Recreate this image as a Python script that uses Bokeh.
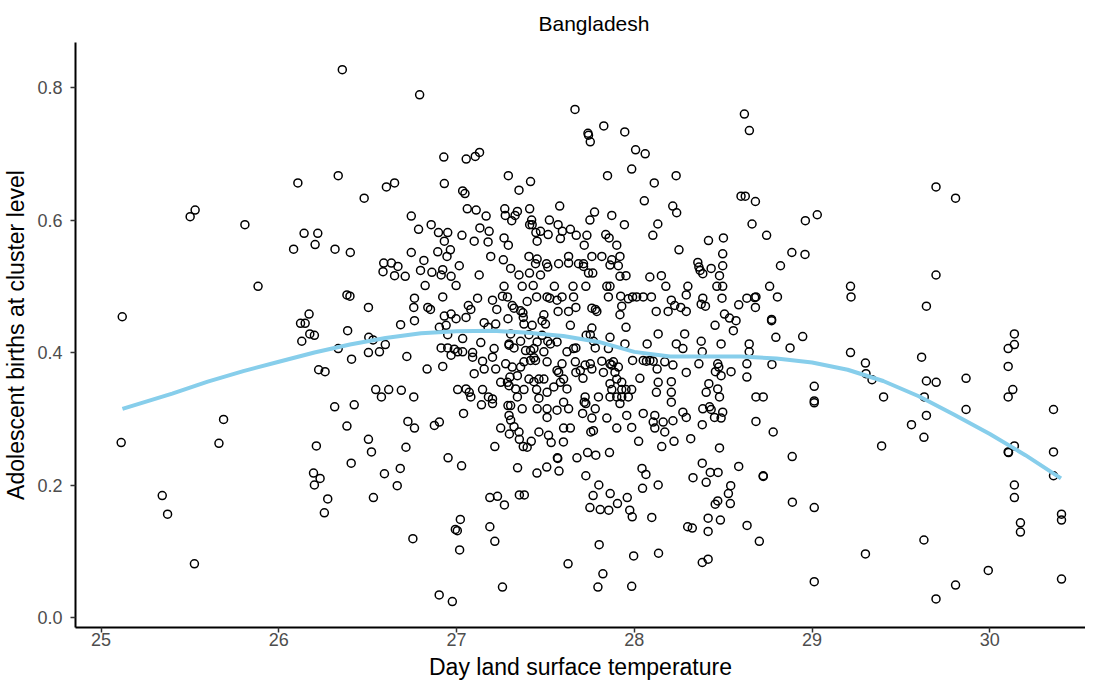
from bokeh.plotting import figure
from bokeh.models import Range1d, FixedTicker, NumeralTickFormatter
from bokeh.embed import file_html
from bokeh.resources import INLINE

temperature = [
    26.357, 26.107, 26.334, 26.480, 26.605, 26.651, 25.501, 25.529, 25.809, 26.142, 26.219, 26.745,
    26.792, 27.666, 27.739, 27.742, 27.752, 27.828, 27.946, 28.007, 28.061, 27.985, 27.849, 28.112,
    28.235, 28.056, 28.216, 28.238, 28.132, 27.944, 28.104, 27.873, 27.776, 27.750, 28.619, 28.647,
    28.600, 28.624, 26.928, 27.054, 27.105, 27.129, 26.931, 27.034, 27.047, 27.291, 27.351, 27.416,
    27.060, 27.110, 27.166, 27.271, 27.274, 27.342, 27.329, 27.310, 27.411, 27.580, 27.422, 27.411,
    27.425, 27.522, 27.571, 26.786, 26.857, 26.898, 26.950, 27.030, 27.131, 27.183, 27.267, 27.446,
    27.472, 27.515, 27.595, 27.640, 27.673, 27.733, 27.839, 27.858, 28.417, 28.501,
    28.681, 28.662, 28.744, 28.962, 29.029, 29.697, 29.807,
    25.119, 25.883, 26.083, 26.204, 26.316, 26.402, 26.745, 26.590, 26.633, 26.670, 26.586, 26.651,
    26.711, 26.383, 26.400, 26.504, 26.763, 26.759, 26.763, 26.685, 26.122, 26.148, 26.170, 26.174,
    26.200, 26.129, 26.387, 26.506, 26.530, 26.599, 26.334, 26.504, 26.566, 26.409, 26.720, 26.224,
    26.260, 26.545, 26.577, 26.618, 26.689, 26.759, 26.314, 26.424, 25.689, 26.383, 26.726, 26.763,
    25.113, 25.663, 26.211, 26.504, 26.521, 26.715, 26.407, 26.195, 26.232, 26.200, 26.594, 26.683,
    26.666, 26.275, 26.532, 26.256, 25.344, 25.374, 25.525, 26.754,
    28.886, 28.960, 28.822, 28.761, 28.684, 28.677, 28.805, 28.681, 28.772, 28.772, 29.216, 29.219,
    29.697, 29.643, 28.796, 28.947, 28.876, 29.216, 30.138, 30.138, 30.103, 29.616, 29.300, 28.774,
    29.303, 29.337, 30.103, 29.643, 29.698, 29.866, 29.012, 29.012, 29.012, 28.684, 28.725, 29.402,
    29.631, 30.129, 30.103, 29.866, 30.358, 29.643, 29.559, 28.684, 28.781,
    29.629, 29.391, 28.888, 28.725, 28.725, 28.889, 29.012, 28.703, 29.300, 29.629, 29.012, 29.697,
    29.807, 29.991, 30.138, 30.103, 30.105, 30.358, 30.358, 30.138, 30.138, 30.172, 30.172, 30.403,
    30.403, 30.403,
    27.215, 27.297, 27.353, 27.420, 27.375, 27.397, 27.517, 27.532, 27.601, 27.755, 28.024, 28.154,
    28.223, 28.317, 28.479, 26.952, 27.028, 27.343, 27.452, 27.507, 27.576, 27.567, 27.569, 27.677,
    27.737, 27.783, 27.860, 27.727, 27.800, 27.768, 27.864, 27.750, 27.808, 27.856, 27.905, 27.960,
    27.974, 27.988, 28.043, 28.065, 28.046, 28.134, 28.098, 27.187, 27.230, 27.269, 27.353, 27.381,
    27.021, 26.993, 27.004, 27.187, 27.215, 27.017, 27.258, 26.902, 26.976, 27.627, 27.802, 27.823,
    27.795, 27.996, 28.136, 27.985, 28.382, 28.427, 28.471, 28.330, 28.404, 28.587, 28.542, 28.529,
    28.540, 28.469, 28.455, 28.415, 28.484, 28.415, 28.300, 28.326, 28.634, 28.382, 28.415,
    26.931, 27.099, 27.177, 27.291, 27.453, 27.584, 27.718, 26.894, 26.965, 26.946, 27.192, 27.263,
    27.407, 27.453, 27.630, 27.686, 27.714, 27.761, 27.817, 27.873, 27.919, 27.901, 28.251, 28.497,
    28.497, 26.816, 26.797, 26.861, 26.922, 26.913, 26.969, 27.015, 27.127, 27.304, 27.351, 27.410,
    27.472, 27.444, 27.506, 27.513, 27.574, 27.630, 27.714, 27.742, 27.766, 27.863, 27.910, 27.919,
    27.953, 28.087, 28.152, 28.357, 28.363, 28.370, 28.385, 28.432, 28.479, 26.823, 26.997, 27.267,
    27.369, 27.431, 27.550, 27.655, 27.727, 27.845, 27.863, 28.177, 28.301, 28.464, 28.497, 26.922,
    27.118, 27.202, 27.258, 27.286, 27.313, 27.397, 27.450, 27.509, 27.524, 27.593, 27.565, 27.658,
    27.854, 27.923, 27.966, 27.990, 28.013, 28.050, 28.096, 28.208, 28.292, 28.385, 28.493, 28.633,
    26.838, 26.853, 26.969, 26.931, 27.066, 27.080, 27.053, 27.226, 27.323, 27.360, 27.373, 27.375,
    27.491, 27.571, 27.671, 27.630, 27.761, 27.781, 27.789, 27.919, 27.929, 28.123, 28.190, 28.227,
    28.261, 28.292, 28.376, 28.400, 28.507, 28.535, 28.587, 26.903, 26.941, 26.997, 27.155, 27.177,
    27.220, 27.289, 27.379, 27.425, 27.481, 27.500, 27.640, 27.761, 27.953, 28.134, 28.283, 28.454,
    28.557, 28.572, 26.950, 27.034, 27.136, 27.304, 27.295, 27.360, 27.407, 27.453, 27.481, 27.513,
    27.565, 27.729, 27.752, 27.770, 27.863, 27.947, 28.072, 28.236, 28.376, 28.488, 28.646, 26.913,
    26.950, 26.987, 27.006, 27.034, 27.090, 27.211, 27.295, 27.323, 27.388, 27.416, 27.435, 27.491,
    27.528, 27.621, 27.658, 27.671, 27.780, 27.854, 28.273, 28.382, 28.646, 26.969, 27.090, 27.146,
    27.202, 27.276, 27.313, 27.360, 27.379, 27.416, 27.435, 27.444, 27.509, 27.593, 27.668, 27.723,
    27.752, 27.817, 27.863, 27.882, 27.910, 27.990, 28.050, 28.068, 28.087, 28.106, 28.128, 28.171,
    28.217, 28.363, 28.469, 28.475, 28.633, 28.633, 26.834, 26.922, 27.099, 27.155, 27.220, 27.300,
    27.286, 27.342, 27.407, 27.435, 27.463, 27.491, 27.565, 27.574, 27.602, 27.671, 27.696, 27.711,
    27.761, 27.826, 27.873, 27.891, 27.901, 27.929, 28.031, 28.134, 28.208, 28.292, 28.456, 28.488,
    28.544, 27.006, 27.053, 27.071, 27.080, 27.146, 27.179, 27.202, 27.248, 27.295, 27.332, 27.342,
    27.379, 27.450, 27.463, 27.509, 27.547, 27.584, 27.621, 27.723, 27.798, 27.863, 27.873, 27.863,
    27.901, 27.929, 27.929, 27.953, 27.966, 27.985, 28.124, 28.208, 28.404, 28.419, 28.469, 28.479,
    27.140, 27.202, 27.289, 27.304, 27.369, 27.453, 27.509, 27.565, 27.602, 27.630, 27.718, 27.727,
    27.780, 27.919, 28.050, 28.115, 28.208, 28.273, 28.385, 28.423, 28.432, 28.497, 26.875, 26.903,
    27.039, 27.248, 27.295, 27.304, 27.323, 27.351, 27.463, 27.509, 27.602, 27.640, 27.709, 27.761,
    27.770, 27.845, 27.901, 27.957, 27.985, 28.106, 28.115, 28.162, 28.171, 28.217, 28.292, 28.382,
    28.451, 28.488,
]

births = [
    0.827, 0.656, 0.667, 0.633, 0.650, 0.656, 0.605, 0.615, 0.593, 0.580, 0.580, 0.606,
    0.789, 0.767, 0.731, 0.728, 0.718, 0.742, 0.733, 0.706, 0.700, 0.677, 0.667, 0.656,
    0.667, 0.629, 0.621, 0.611, 0.594, 0.593, 0.577, 0.607, 0.612, 0.600, 0.760, 0.735,
    0.636, 0.636, 0.695, 0.692, 0.696, 0.702, 0.655, 0.644, 0.640, 0.667, 0.645, 0.658,
    0.617, 0.615, 0.606, 0.617, 0.607, 0.613, 0.607, 0.599, 0.617, 0.621, 0.600, 0.593,
    0.593, 0.600, 0.593, 0.586, 0.593, 0.581, 0.581, 0.577, 0.588, 0.583, 0.573, 0.581,
    0.583, 0.578, 0.583, 0.586, 0.577, 0.577, 0.578, 0.573, 0.569, 0.573,
    0.628, 0.594, 0.577, 0.599, 0.608, 0.650, 0.633,
    0.454, 0.500, 0.556, 0.563, 0.556, 0.551, 0.551, 0.535, 0.535, 0.530, 0.522, 0.516,
    0.515, 0.487, 0.485, 0.468, 0.482, 0.468, 0.448, 0.442, 0.444, 0.444, 0.458, 0.428,
    0.426, 0.417, 0.433, 0.423, 0.419, 0.412, 0.406, 0.400, 0.401, 0.390, 0.394, 0.374,
    0.371, 0.344, 0.333, 0.344, 0.343, 0.333, 0.318, 0.321, 0.299, 0.289, 0.296, 0.286,
    0.264, 0.263, 0.259, 0.269, 0.250, 0.257, 0.233, 0.218, 0.210, 0.200, 0.217, 0.225,
    0.199, 0.179, 0.181, 0.158, 0.184, 0.156, 0.081, 0.119,
    0.551, 0.548, 0.531, 0.500, 0.484, 0.483, 0.484, 0.468, 0.450, 0.448, 0.500, 0.484,
    0.517, 0.470, 0.423, 0.424, 0.407, 0.400, 0.428, 0.412, 0.406, 0.393, 0.384, 0.382,
    0.368, 0.359, 0.379, 0.357, 0.355, 0.361, 0.349, 0.327, 0.324, 0.333, 0.333, 0.333,
    0.333, 0.344, 0.333, 0.314, 0.314, 0.305, 0.291, 0.296, 0.280,
    0.272, 0.259, 0.243, 0.214, 0.213, 0.174, 0.166, 0.115, 0.096, 0.117, 0.054, 0.028,
    0.049, 0.071, 0.259, 0.250, 0.249, 0.250, 0.214, 0.200, 0.181, 0.143, 0.129, 0.156,
    0.147, 0.058,
    0.258, 0.277, 0.269, 0.266, 0.258, 0.257, 0.275, 0.264, 0.265, 0.280, 0.266, 0.258,
    0.266, 0.270, 0.256, 0.241, 0.229, 0.226, 0.218, 0.227, 0.221, 0.241, 0.240, 0.241,
    0.249, 0.245, 0.249, 0.214, 0.200, 0.184, 0.187, 0.166, 0.163, 0.162, 0.172, 0.181,
    0.162, 0.152, 0.225, 0.216, 0.195, 0.200, 0.151, 0.181, 0.183, 0.170, 0.185, 0.185,
    0.148, 0.133, 0.131, 0.137, 0.115, 0.102, 0.046, 0.034, 0.024, 0.081, 0.110, 0.066,
    0.046, 0.093, 0.097, 0.047, 0.233, 0.219, 0.219, 0.211, 0.204, 0.228, 0.199, 0.187,
    0.172, 0.176, 0.171, 0.150, 0.147, 0.130, 0.137, 0.135, 0.139, 0.083, 0.088,
    0.568, 0.568, 0.567, 0.562, 0.568, 0.572, 0.562, 0.552, 0.555, 0.545, 0.545, 0.540,
    0.545, 0.541, 0.545, 0.534, 0.534, 0.545, 0.545, 0.540, 0.545, 0.562, 0.555, 0.549,
    0.531, 0.539, 0.524, 0.521, 0.525, 0.517, 0.515, 0.531, 0.517, 0.527, 0.517, 0.520,
    0.517, 0.534, 0.534, 0.529, 0.534, 0.535, 0.530, 0.520, 0.520, 0.532, 0.531, 0.515,
    0.516, 0.514, 0.516, 0.536, 0.529, 0.524, 0.519, 0.527, 0.516, 0.501, 0.501, 0.500,
    0.500, 0.501, 0.500, 0.500, 0.500, 0.500, 0.500, 0.500, 0.500, 0.500, 0.500, 0.484,
    0.482, 0.479, 0.485, 0.484, 0.471, 0.477, 0.484, 0.484, 0.482, 0.484, 0.479, 0.484,
    0.484, 0.485, 0.481, 0.484, 0.484, 0.484, 0.484, 0.479, 0.487, 0.482, 0.482, 0.482,
    0.468, 0.465, 0.458, 0.455, 0.471, 0.465, 0.453, 0.465, 0.467, 0.463, 0.460, 0.453,
    0.457, 0.462, 0.468, 0.462, 0.467, 0.465, 0.462, 0.457, 0.470, 0.462, 0.462, 0.471,
    0.468, 0.462, 0.473, 0.470, 0.458, 0.452, 0.472, 0.438, 0.441, 0.451, 0.445, 0.438,
    0.443, 0.451, 0.443, 0.441, 0.448, 0.443, 0.441, 0.437, 0.438, 0.428, 0.428, 0.441,
    0.433, 0.448, 0.427, 0.421, 0.415, 0.428, 0.413, 0.417, 0.427, 0.416, 0.426, 0.417,
    0.416, 0.426, 0.427, 0.417, 0.423, 0.413, 0.413, 0.413, 0.417, 0.413, 0.413, 0.407,
    0.407, 0.405, 0.401, 0.401, 0.400, 0.406, 0.411, 0.407, 0.403, 0.403, 0.406, 0.401,
    0.413, 0.401, 0.406, 0.407, 0.407, 0.406, 0.406, 0.401, 0.401, 0.396, 0.393, 0.387,
    0.393, 0.383, 0.378, 0.378, 0.386, 0.388, 0.392, 0.388, 0.386, 0.383, 0.386, 0.381,
    0.383, 0.387, 0.383, 0.386, 0.378, 0.388, 0.388, 0.387, 0.388, 0.387, 0.375, 0.386,
    0.381, 0.383, 0.383, 0.378, 0.383, 0.363, 0.375, 0.379, 0.368, 0.375, 0.375, 0.363,
    0.355, 0.365, 0.360, 0.356, 0.360, 0.360, 0.373, 0.370, 0.360, 0.370, 0.373, 0.361,
    0.375, 0.370, 0.381, 0.370, 0.360, 0.355, 0.361, 0.355, 0.356, 0.370, 0.371, 0.365,
    0.371, 0.344, 0.345, 0.340, 0.333, 0.344, 0.333, 0.330, 0.355, 0.350, 0.345, 0.333,
    0.344, 0.344, 0.331, 0.340, 0.348, 0.355, 0.345, 0.333, 0.333, 0.353, 0.344, 0.333,
    0.333, 0.344, 0.333, 0.344, 0.333, 0.344, 0.340, 0.340, 0.340, 0.353, 0.345, 0.333,
    0.321, 0.323, 0.320, 0.320, 0.315, 0.315, 0.315, 0.313, 0.325, 0.315, 0.325, 0.323,
    0.315, 0.323, 0.308, 0.305, 0.325, 0.310, 0.315, 0.318, 0.314, 0.310, 0.290, 0.295,
    0.308, 0.286, 0.305, 0.298, 0.288, 0.280, 0.280, 0.302, 0.286, 0.286, 0.308, 0.301,
    0.282, 0.301, 0.286, 0.305, 0.287, 0.295, 0.286, 0.295, 0.280, 0.297, 0.302, 0.291,
    0.302, 0.301,
]

smooth_temperature = [25.12, 25.4, 25.6, 25.8, 26.0, 26.2, 26.4, 26.6, 26.8, 27.0, 27.2, 27.4, 27.6,
                      27.8, 28.0, 28.2, 28.4, 28.6, 28.8, 29.0, 29.2, 29.4, 29.6, 29.8, 30.0, 30.2, 30.4]
smooth_births = [0.315, 0.338, 0.356, 0.372, 0.386, 0.400, 0.412, 0.422, 0.429, 0.432, 0.433, 0.430, 0.425,
                 0.416, 0.401, 0.394, 0.394, 0.394, 0.391, 0.385, 0.374, 0.357, 0.334, 0.306, 0.277, 0.245, 0.210]

x_ticks = [25, 26, 27, 28, 29, 30]
y_ticks = [0.0, 0.2, 0.4, 0.6, 0.8]

p = figure(width=1085, height=682, output_backend="svg", toolbar_location=None,
           x_range=Range1d(24.856, 30.538), y_range=Range1d(-0.0151, 0.868),
           min_border_left=69, min_border_right=0, min_border_top=42, min_border_bottom=40)

p.background_fill_color = "white"
p.border_fill_color = "white"
p.outline_line_color = None
p.xgrid.grid_line_color = None
p.ygrid.grid_line_color = None

p.title.text = "Bangladesh"
p.title.text_font = "Liberation Sans"
p.title.text_font_size = "21px"
p.title.text_font_style = "normal"
p.title.text_color = "black"
p.title.align = "left"
p.title.offset = 463
p.title.standoff = 16

p.xaxis.ticker = FixedTicker(ticks=x_ticks)
p.yaxis.ticker = FixedTicker(ticks=y_ticks)
p.yaxis.formatter = NumeralTickFormatter(format="0.0")
p.xaxis.axis_label = "Day land surface temperature"
p.yaxis.axis_label = "Adolescent births at cluster level"

for ax in (p.xaxis, p.yaxis):
    ax.axis_line_color = "black"
    ax.axis_line_width = 2
    ax.major_tick_line_color = "#333333"
    ax.major_tick_line_width = 1.5
    ax.major_tick_out = 5
    ax.major_tick_in = 0
    ax.minor_tick_line_color = None
    ax.major_label_text_font = "Liberation Sans"
    ax.major_label_text_font_size = "18px"
    ax.major_label_text_color = "#4D4D4D"
    ax.axis_label_text_font = "Liberation Sans"
    ax.axis_label_text_font_size = "23px"
    ax.axis_label_text_font_style = "normal"
    ax.axis_label_text_color = "black"

p.xaxis.major_label_standoff = 0
p.xaxis.axis_label_standoff = 5
p.yaxis.major_label_standoff = 8
p.yaxis.axis_label_standoff = 5

p.scatter(temperature, births, marker="circle", size=8, fill_color=None,
          line_color="black", line_width=1.5)
p.line(smooth_temperature, smooth_births, line_color="#87CEEB", line_width=4)

open("out.html", "w").write(file_html(p, INLINE))
